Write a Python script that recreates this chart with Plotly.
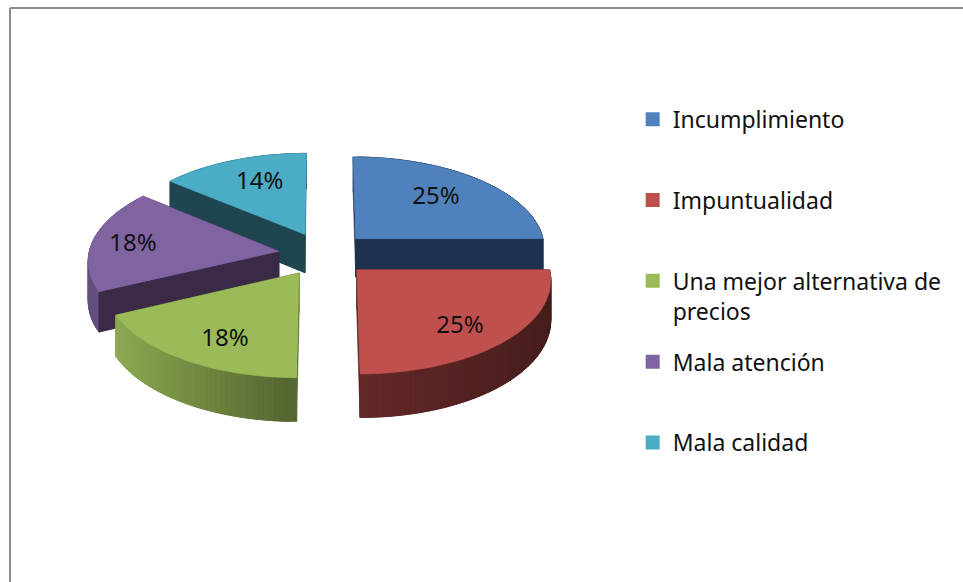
import numpy as np
import plotly.graph_objects as go

categories = ["Incumplimiento", "Impuntualidad", "Una mejor alternativa de<br>precios", "Mala atención", "Mala calidad"]
values = [25, 25, 18, 18, 14]

colors = ["#4f81bd", "#c0504d", "#9bbb59", "#8064a2", "#4bacc6"]
inner_wall = ["#1c324f", "#4a1c1b", "#4f6228", "#3a2a47", "#1e4550"]
label_radius = [0.68, 0.74, 0.73, 0.79, 0.70]
label_turn = [-3.6, 3.0, -3.0, 0.0, 2.7]
front_cut = {0: -1, 3: 0, 4: 0}
FONT = "Noto Sans"

# projection of the tilted pie onto the page
CX, CY, RX, RY, PERSP, EXPLODE, DEPTH = 324, 254, 190, 91.7, 0.09, 0.24, 39


def project(u, v, down=0.0):
    s = 1 + PERSP * v
    return CX + RX * u / s, CY - RY * v / s + down * DEPTH / s


def rgb(c):
    return np.array([int(c[i:i + 2], 16) for i in (1, 3, 5)], float)


def tone(c, f):
    r = np.clip(rgb(c) * f, 0, 255).astype(int)
    return f"rgb({r[0]},{r[1]},{r[2]})"


def shade_at(x):
    return float(np.interp(x, [97, 115, 296, 362, 553], [0.78, 0.92, 0.55, 0.52, 0.37]))


def poly(fig, xs, ys, color, edge=0.6):
    fig.add_trace(go.Scatter(x=xs, y=ys, mode="lines", fill="toself", fillcolor=color,
                             line=dict(color=color, width=edge), showlegend=False, hoverinfo="skip"))


def side(fig, p, q, color, edge=0.6):
    x0, y0 = project(*p)
    x1, y1 = project(*q)
    x2, y2 = project(*q, 1)
    x3, y3 = project(*p, 1)
    poly(fig, [x0, x1, x2, x3, x0], [y0, y1, y2, y3, y0], color, edge)


fig = go.Figure()

total = sum(values)
edges = np.cumsum([0] + values) / total * 2 * np.pi
slices = []
for i in range(len(values)):
    a0, a1 = edges[i], edges[i + 1]
    mid = (a0 + a1) / 2
    slices.append((i, a0, a1, mid, EXPLODE * np.sin(mid), EXPLODE * np.cos(mid)))

# back slices first
label_x, label_y, label_text = [], [], []
for i, a0, a1, mid, ox, oy in sorted(slices, key=lambda s: -s[5]):
    n = max(8, int((a1 - a0) / np.radians(1.5)))
    ang = np.linspace(a0, a1, n + 1)
    rim = [(ox + np.sin(t), oy + np.cos(t)) for t in ang]
    apex = (ox, oy)
    for q in (rim[0], rim[-1]):
        side(fig, apex, q, inner_wall[i])
    # outer wall: overlapping strips, drawn from the far end towards the near end
    strips = []
    for k in range(len(rim) - 1):
        p, q = rim[k], rim[min(k + 2, len(rim) - 1)]
        xm = project(*rim[k])[0]
        strips.append((p, q, tone(colors[i], shade_at(xm))))
    if rim[0][1] < rim[-1][1]:
        strips = strips[::-1]
    for p, q, c in strips:
        side(fig, p, q, c, 0.8)
    if i in front_cut:
        side(fig, apex, rim[front_cut[i]], inner_wall[i])
    top = [apex] + rim + [apex]
    xs, ys = zip(*[project(*p) for p in top])
    poly(fig, list(xs), list(ys), colors[i])
    la = mid + np.radians(label_turn[i])
    lx, ly = project(ox + label_radius[i] * np.sin(la), oy + label_radius[i] * np.cos(la))
    label_x.append(lx + 1)
    label_y.append(ly + 2.5)
    label_text.append(f"{values[i] / total:.0%}")

fig.add_trace(go.Scatter(x=label_x, y=label_y, text=label_text, mode="text", showlegend=False,
                         textfont=dict(family=FONT, size=24, color="#111111"), hoverinfo="skip"))

for i, name in enumerate(categories):
    shown = name if "<br>" in name else name + "<br>\u00a0"
    fig.add_trace(go.Scatter(x=[None], y=[None], name=shown, mode="markers", legendgroup=f"g{i}",
                             marker=dict(symbol="square", size=14, color=colors[i])))

fig.update_layout(
    width=963, height=582, autosize=False,
    margin=dict(l=0, r=0, t=0, b=0),
    paper_bgcolor="white", plot_bgcolor="white",
    xaxis=dict(visible=False, range=[0, 963], fixedrange=True),
    yaxis=dict(visible=False, range=[582, 0], fixedrange=True),
    legend=dict(x=0.657, y=0.832, xanchor="left", yanchor="top", tracegroupgap=18, valign="top",
                font=dict(family=FONT, size=23, color="#111111"), bgcolor="rgba(0,0,0,0)",
                itemclick=False, itemdoubleclick=False),
    shapes=[
        dict(type="line", xref="paper", yref="paper", x0=10 / 963, x1=1, y0=1 - 8 / 582, y1=1 - 8 / 582,
             line=dict(color="#8c8c8c", width=2)),
        dict(type="line", xref="paper", yref="paper", x0=10 / 963, x1=10 / 963, y0=0, y1=1 - 8 / 582,
             line=dict(color="#8c8c8c", width=2)),
    ],
)

fig.write_html("out.html", config={"displayModeBar": False},
               post_script="document.body.style.margin='0';")
